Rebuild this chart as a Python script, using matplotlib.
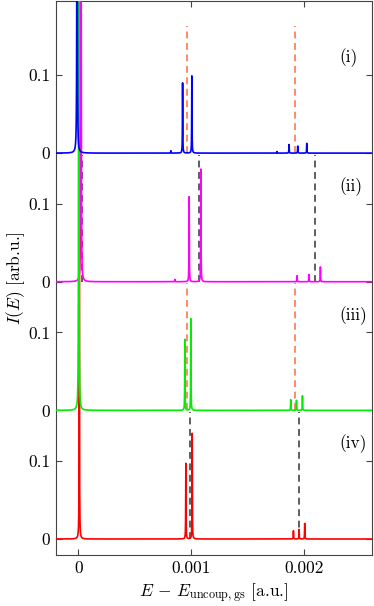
import numpy as np
import matplotlib.pyplot as plt

plt.rcParams['font.family'] = 'serif'
plt.rcParams['font.serif'] = ['cmr10']
plt.rcParams['mathtext.fontset'] = 'cm'
plt.rcParams['axes.formatter.use_mathtext'] = True

# peak positions (a.u.) and heights (arb.u.), per panel
pos_i = [-0.000011, 0.00082, 0.000924, 0.001006, 0.00176, 0.001867, 0.001944, 0.002024]
amp_i = [1.0, 0.003, 0.090, 0.099, 0.002, 0.011, 0.009, 0.0125]
pos_ii = [0.000024, 0.000856, 0.000982, 0.001086, 0.001938, 0.002044, 0.002145]
amp_ii = [1.0, 0.003, 0.109, 0.1445, 0.0077, 0.0094, 0.019]
pos_iii = [0.000004, 0.000944, 0.000997, 0.001882, 0.001933, 0.001986]
amp_iii = [1.0, 0.091, 0.1175, 0.0137, 0.0128, 0.0188]
pos_iv = [0.000009, 0.000953, 0.001009, 0.001906, 0.001956, 0.002006]
amp_iv = [0.40, 0.097, 0.1355, 0.0106, 0.0124, 0.020]

# reference (dashed) energies per panel
ref_i = [0.000966, 0.001924]
ref_ii = [0.000035, 0.001068, 0.002095]
ref_iii = [0.000966, 0.001924]
ref_iv = [0.000988, 0.001956]

labels = ['(i)', '(ii)', '(iii)', '(iv)']
xticks = [0, 0.001, 0.002]
xticklabels = ['0', '0.001', '0.002']

offsets = [0.495, 0.33, 0.165, 0.0]
colors = ['#0000ff', '#ff00ff', '#00ee00', '#ff0000']
ref_colors = ['#ff6a3d', '#333333', '#ff6a3d', '#333333']
gamma = 1.5e-6
xlim = (-0.0002, 0.0026)


def spectrum(x, pos, amp):
    y = np.zeros_like(x)
    for p, a in zip(pos, amp):
        y += a * gamma**2 / ((x - p)**2 + gamma**2)
    return y


panels = [(pos_i, amp_i, ref_i), (pos_ii, amp_ii, ref_ii),
          (pos_iii, amp_iii, ref_iii), (pos_iv, amp_iv, ref_iv)]

fig = plt.figure(figsize=(3.74, 6.06), dpi=100)
ax = fig.add_axes([0.149, 0.0842, 0.845, 0.914])

zorders = [6, 3, 5, 4]
for k, (pos, amp, ref) in enumerate(panels):
    off = offsets[k]
    x = np.union1d(np.linspace(xlim[0], xlim[1], 20001), pos)
    ax.plot(x, spectrum(x, pos, amp) + off, color=colors[k], lw=1.2,
            zorder=zorders[k])
    for r in ref:
        ax.plot([r, r], [off, off + 0.163], ls=(0, (4.5, 3)), lw=1.1,
                color=ref_colors[k], zorder=2)
    ax.text(0.002316, off + 0.122, labels[k], fontsize=12.5, va='center',
            ha='left')

yt = []
ytl = []
for off in offsets:
    yt += [off, off + 0.1]
    ytl += ['0', '0.1']
ax.set_yticks(yt, ytl)
ax.set_xticks(xticks, xticklabels)
ax.set_xlim(*xlim)
ax.set_ylim(-0.0205, 0.69)
ax.tick_params(direction='in', top=True, right=True, length=4,
               labelsize=12.5, color='#444444', pad=4)
for s in ax.spines.values():
    s.set_color('#444444')
    s.set_linewidth(0.8)

ax.set_xlabel(r'$E\, -\, E_{\mathrm{uncoup,gs}}$ [a.u.]', fontsize=12.5,
              labelpad=4)
ax.set_ylabel(r'$I(E)$ [arb.u.]', fontsize=12.5, labelpad=1)

fig.savefig('out.png', dpi=100)
